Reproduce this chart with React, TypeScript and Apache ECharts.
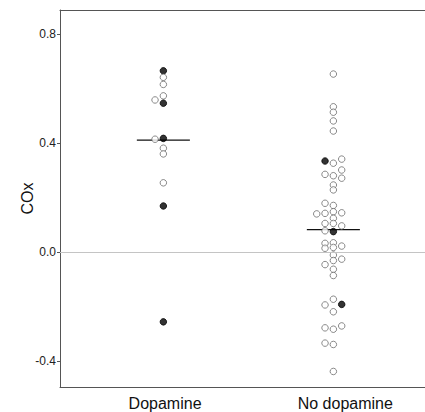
import React, { useEffect, useRef } from "react";
import * as echarts from "echarts";

// Group names (x-axis labels)
const categories = ["Dopamine", "No dopamine"];

// Dopamine group: COx values, filled marker flag, beeswarm lane
const dopamineValues = [0.666, 0.642, 0.616, 0.574, 0.559, 0.547, 0.418, 0.415, 0.382, 0.361, 0.255, 0.17, -0.255];
const dopamineFilled = [1, 0, 0, 0, 0, 1, 1, 0, 0, 0, 0, 1, 1];
const dopamineLane = [0, 0, 0, 0, -1, 0, 0, -1, 0, 0, 0, 0, 0];

// No dopamine group
const noDopamineValues = [
  0.654, 0.534, 0.514, 0.482, 0.445,
  0.342, 0.335, 0.327, 0.302, 0.286, 0.281, 0.272, 0.247, 0.229,
  0.18, 0.172, 0.149, 0.141, 0.143, 0.145, 0.125, 0.106, 0.106, 0.097, 0.079, 0.076,
  0.035, 0.033, 0.023, 0.018, 0.015,
  -0.01, -0.025, -0.03, -0.045, -0.062, -0.085,
  -0.172, -0.191, -0.193, -0.218, -0.27, -0.277, -0.282, -0.333, -0.338, -0.437,
];
const noDopamineFilled = [
  0, 0, 0, 0, 0,
  0, 1, 0, 0, 0, 0, 0, 0, 0,
  0, 0, 0, 0, 0, 0, 0, 0, 0, 0, 0, 1,
  0, 0, 0, 0, 0,
  0, 0, 0, 0, 0, 0,
  0, 1, 0, 0, 0, 0, 0, 0, 0, 0,
];
const noDopamineLane = [
  0, 0, 0, 0, 0,
  1, -1, 0, 1, -1, 0, 1, 0, 0,
  -1, 0, 0, -2, -1, 1, 0, -1, 0, 1, -1, 0,
  0, -1, 1, 0, -1,
  0, 1, 0, -1, 0, 0,
  0, 1, -1, 0, 1, -1, 0, -1, 0, 0,
];

// Axis ticks
const yTicks = [-0.4, 0, 0.4, 0.8];

const FONT = "'Liberation Sans', Arial, Helvetica, sans-serif";
const LANE_W = 0.049;
const MEAN_HALF = 0.156;
const X_MIN = 0.392;
const X_MAX = 2.539;

function buildPoints(center: number, values: number[], filled: number[], lanes: number[]) {
  return values.map((v, i) => ({
    value: [center + lanes[i] * LANE_W, v],
    itemStyle: filled[i]
      ? { color: "#000", borderColor: "#000", borderWidth: 1 }
      : { color: "#fff", borderColor: "#6b6b6b", borderWidth: 1 },
  }));
}

function mean(a: number[]) {
  return a.reduce((s, v) => s + v, 0) / a.length;
}

export default function App() {
  const ref = useRef<HTMLDivElement>(null);
  useEffect(() => {
    if (!ref.current) return;
    const chart = echarts.init(ref.current, null, { renderer: "svg" });
    const mD = mean(dopamineValues);
    const mN = mean(noDopamineValues);
    chart.setOption({
      animation: false,
      grid: {
        left: 60,
        top: 10,
        right: 0,
        bottom: 25,
        show: false,
      },
      xAxis: [
        {
          type: "value",
          min: X_MIN,
          max: X_MAX,
          splitLine: { show: false },
          axisLine: { show: true, onZero: false, lineStyle: { color: "#555", width: 1 } },
          axisTick: { show: false },
          axisLabel: {
            customValues: [1.01, 2.07],
            formatter: (v: number) => categories[Math.round(v) - 1] ?? "",
            color: "#111",
            fontSize: 16,
            fontFamily: FONT,
            margin: 8,
          },
        },
        {
          type: "value",
          position: "top",
          min: X_MIN,
          max: X_MAX,
          splitLine: { show: false },
          axisLine: { show: true, onZero: false, lineStyle: { color: "#555", width: 1 } },
          axisTick: { show: false },
          axisLabel: { show: false },
        },
      ],
      yAxis: {
        type: "value",
        min: -0.494,
        max: 0.889,
        name: "COx",
        nameLocation: "middle",
        nameRotate: 90,
        nameGap: 25,
        nameMoveOverlap: false,
        nameTextStyle: { fontSize: 16, color: "#111", fontFamily: FONT },
        splitLine: { show: false },
        axisLine: { show: true, onZero: false, lineStyle: { color: "#555", width: 1 } },
        axisTick: { show: true, customValues: yTicks, length: 3, lineStyle: { color: "#555" } },
        axisLabel: {
          customValues: yTicks,
          formatter: (v: number) => v.toFixed(1),
          color: "#222",
          fontSize: 12,
          fontFamily: FONT,
          margin: 4,
        },
      },
      series: [
        {
          type: "line",
          data: [],
          silent: true,
          markLine: {
            silent: true,
            symbol: "none",
            label: { show: false },
            lineStyle: { color: "#c4c4c4", width: 1, type: "solid" },
            data: [{ yAxis: 0 }],
          },
        },
        {
          type: "line",
          data: [[1 - MEAN_HALF, mD], [1 + MEAN_HALF, mD]],
          symbol: "none",
          lineStyle: { color: "#111", width: 1.2 },
          z: 3,
        },
        {
          type: "line",
          data: [[2 - MEAN_HALF, mN], [2 + MEAN_HALF, mN]],
          symbol: "none",
          lineStyle: { color: "#111", width: 1.2 },
          z: 3,
        },
        {
          type: "scatter",
          symbol: "circle",
          symbolSize: 6.5,
          data: buildPoints(1, dopamineValues, dopamineFilled, dopamineLane),
          z: 4,
        },
        {
          type: "scatter",
          symbol: "circle",
          symbolSize: 6.5,
          data: buildPoints(2, noDopamineValues, noDopamineFilled, noDopamineLane),
          z: 4,
        },
      ],
    });
    return () => chart.dispose();
  }, []);
  return (
    <div
      ref={ref}
      style={{ position: "fixed", left: 0, top: 0, width: 425, height: 412, background: "#fff" }}
    />
  );
}
